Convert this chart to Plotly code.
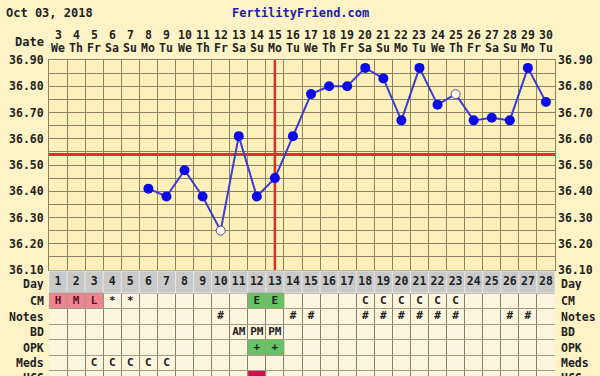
import plotly.graph_objects as go

# ---------------- data ----------------
cycle_days = list(range(1, 29))
dates = ["3", "4", "5", "6", "7", "8", "9", "10", "11", "12", "13", "14", "15", "16",
         "17", "18", "19", "20", "21", "22", "23", "24", "25", "26", "27", "28", "29", "30"]
weekdays = ["We", "Th", "Fr", "Sa", "Su", "Mo", "Tu"] * 4
temps = [None, None, None, None, None,
         36.41, 36.38, 36.48, 36.38, 36.25, 36.61, 36.38, 36.45, 36.61, 36.77,
         36.80, 36.80, 36.87, 36.83, 36.67, 36.87, 36.73, 36.77, 36.67, 36.68,
         36.67, 36.87, 36.74]
open_days = [10, 23]
coverline = 36.54
ovulation_day = 13
temp_ticks = [36.10, 36.20, 36.30, 36.40, 36.50, 36.60, 36.70, 36.80, 36.90]

cm_row = ["H", "M", "L", "*", "*", "", "", "", "", "", "", "E", "E", "", "", "", "",
          "C", "C", "C", "C", "C", "C", "", "", "", "", ""]
notes_row = ["", "", "", "", "", "", "", "", "", "#", "", "", "", "#", "#", "", "",
             "#", "#", "#", "#", "#", "#", "", "", "#", "#", ""]
bd_row = ["", "", "", "", "", "", "", "", "", "", "AM", "PM", "PM", "", "", "", "",
          "", "", "", "", "", "", "", "", "", "", ""]
opk_row = ["", "", "", "", "", "", "", "", "", "", "", "+", "+", "", "", "", "",
           "", "", "", "", "", "", "", "", "", "", ""]
meds_row = ["", "", "C", "C", "C", "C", "C", "", "", "", "", "", "", "", "", "", "",
            "", "", "", "", "", "", "", "", "", "", ""]
hcg_row = [""] * 28
cm_colored = {1: "pink", 2: "pink", 3: "pink", 12: "green", 13: "green"}
opk_colored = {12: "green", 13: "green"}
hcg_colored = {12: "crimson"}

row_names = ["Day", "CM", "Notes", "BD", "OPK", "Meds", "HCG"]

# ---------------- style / layout ----------------
W, H = 600, 376
FONT = "DejaVu Sans Mono"
OUTER = "#fdf3c6"
PLOT_BG = "#fdf0ba"
CELL_BG = "#fdf6de"
GRID = "#8a8266"
TGRID = "#a89c80"
DAY_GREY = "#c9c9c9"
CELL_COLORS = {"pink": "#ef8493", "green": "#62c462", "crimson": "#d3104e"}
TXT = "#222222"
PINK_TXT = "#5a1020"

left_px, right_px = 49, 555
top_px, temp_bottom_px = 60, 270
x_dom = [left_px / W, right_px / W]
y_dom = [(H - temp_bottom_px) / H, (H - top_px) / H]
y2_dom = [0, (H - temp_bottom_px) / H]
table_extent = H - temp_bottom_px  # y2 units == px below 36.10 line
row_edges = [1, 23, 38.5, 54, 69.5, 85, 100.5, 116]
row_centers = [(row_edges[i] + row_edges[i + 1]) / 2 for i in range(len(row_edges) - 1)]

fig = go.Figure()

# temperature line
fig.add_trace(go.Scatter(x=cycle_days, y=temps, mode="lines",
                         line=dict(color="#3c3cd2", width=2), hoverinfo="skip",
                         showlegend=False))
filled_x = [d for d, t in zip(cycle_days, temps) if t is not None and d not in open_days]
filled_y = [t for d, t in zip(cycle_days, temps) if t is not None and d not in open_days]
open_x = [d for d, t in zip(cycle_days, temps) if t is not None and d in open_days]
open_y = [t for d, t in zip(cycle_days, temps) if t is not None and d in open_days]
fig.add_trace(go.Scatter(x=filled_x, y=filled_y, mode="markers",
                         marker=dict(size=10, color="#0b0be8", line=dict(width=0)),
                         showlegend=False))
fig.add_trace(go.Scatter(x=open_x, y=open_y, mode="markers",
                         marker=dict(size=9, color="#fff9e8",
                                     line=dict(width=1, color="#4a4ab0")),
                         showlegend=False))

# table text
table_rows = [[str(d) for d in cycle_days], cm_row, notes_row, bd_row, opk_row, meds_row, hcg_row]
for i, row in enumerate(table_rows):
    if i == 1:
        colors = [PINK_TXT if cm_colored.get(d) == "pink" else TXT for d in cycle_days]
    else:
        colors = TXT
    fig.add_trace(go.Scatter(x=cycle_days, y=[row_centers[i]] * 28, mode="text",
                             text=row, yaxis="y2", cliponaxis=False,
                             textfont=dict(family=FONT, size=11.5 if i == 0 else 11,
                                           color=colors, weight="bold"),
                             showlegend=False, hoverinfo="skip"))

shapes = []
# table body background
shapes.append(dict(type="rect", xref="x", yref="y2", x0=0.5, x1=28.5,
                   y0=row_edges[1], y1=row_edges[-1], fillcolor=CELL_BG,
                   line=dict(width=0), layer="below"))
# day row cells
for d in cycle_days:
    shapes.append(dict(type="rect", xref="x", yref="y2", x0=d - 0.5, x1=d + 0.5,
                       y0=row_edges[0], y1=row_edges[1], fillcolor=DAY_GREY,
                       line=dict(width=1, color="#e4e4e4"), layer="between"))
# coloured cells
for r_idx, colored in [(1, cm_colored), (4, opk_colored), (6, hcg_colored)]:
    for d, c in colored.items():
        shapes.append(dict(type="rect", xref="x", yref="y2", x0=d - 0.5, x1=d + 0.5,
                           y0=row_edges[r_idx], y1=row_edges[r_idx + 1],
                           fillcolor=CELL_COLORS[c], line=dict(width=1, color=TGRID),
                           layer="between"))
# coverline and ovulation line
shapes.append(dict(type="line", xref="x", yref="y", x0=0.5, x1=28.5,
                   y0=coverline, y1=coverline, line=dict(color="#e0302c", width=3),
                   layer="between"))
shapes.append(dict(type="line", xref="x", yref="y", x0=ovulation_day, x1=ovulation_day,
                   y0=36.10, y1=36.91, line=dict(color="#e0302c", width=2.5),
                   layer="between"))

annotations = []
hdr_font = dict(family=FONT, size=12, color=TXT, weight="bold")
small_font = dict(family=FONT, size=11.5, color=TXT, weight="bold")
annotations.append(dict(text="Oct 03, 2018", xref="paper", yref="paper", x=4 / W,
                        y=1 - 13 / H, xanchor="left", yanchor="middle",
                        showarrow=False, font=hdr_font))
annotations.append(dict(text="FertilityFriend.com", xref="paper", yref="paper",
                        x=300 / W, y=1 - 13 / H, xanchor="center", yanchor="middle",
                        showarrow=False,
                        font=dict(family=FONT, size=12, color="#1c1ca8", weight="bold")))
annotations.append(dict(text="Date", xref="paper", yref="paper", x=46 / W,
                        y=1 - 42 / H, xanchor="right", yanchor="middle",
                        showarrow=False, font=hdr_font))
for d, dt, wd in zip(cycle_days, dates, weekdays):
    annotations.append(dict(text=dt, xref="x", yref="paper", x=d, y=1 - 35 / H,
                            xanchor="center", yanchor="middle", showarrow=False,
                            font=small_font, height=12))
    annotations.append(dict(text=wd, xref="x", yref="paper", x=d, y=1 - 48 / H,
                            xanchor="center", yanchor="middle", showarrow=False,
                            font=small_font, height=12))
for i, name in enumerate(row_names):
    yc = row_centers[i] + (1 if i == 0 else 0)
    if i == len(row_names) - 1:
        yc = row_edges[i] + 7
    for side in ("left", "right"):
        annotations.append(dict(text=name, xref="paper", yref="paper",
                                x=(46 if side == "left" else 559) / W,
                                y=(H - temp_bottom_px - yc) / H,
                                xanchor="right" if side == "left" else "left",
                                yanchor="middle", showarrow=False,
                                font=small_font, height=13))

minor_vals = [round(36.10 + 0.05 * k, 2) for k in range(17)]

fig.update_layout(
    width=W, height=H, margin=dict(l=0, r=0, t=0, b=0, pad=0), autosize=False,
    paper_bgcolor=OUTER, plot_bgcolor=PLOT_BG,
    shapes=shapes, annotations=annotations, showlegend=False,
    xaxis=dict(domain=x_dom, range=[0.5, 28.5], tickvals=[k + 0.5 for k in range(29)],
               showticklabels=False, ticks="", showgrid=True, gridcolor=GRID, gridwidth=1,
               zeroline=False, showline=True, linecolor=GRID, mirror=True,
               automargin=False, fixedrange=True),
    yaxis=dict(domain=y_dom, range=[36.10, 36.90], tickvals=minor_vals,
               ticktext=[f"{v:.2f}" if round(v * 100) % 10 == 0 else "" for v in minor_vals],
               showgrid=True, gridcolor=GRID, gridwidth=1, zeroline=False, ticks="",
               tickfont=small_font, showline=True, linecolor=GRID, mirror=True,
               ticklabelstandoff=2, automargin=False),
    yaxis2=dict(domain=y2_dom, range=[table_extent, 0], anchor="x",
                tickvals=row_edges[1:-1], showticklabels=False, ticks="",
                showgrid=True, gridcolor=TGRID, zeroline=False, showline=False,
                automargin=False),
    yaxis3=dict(overlaying="y", side="right", anchor="x", range=[36.10, 36.90],
                tickvals=temp_ticks, ticktext=[f"{v:.2f}" for v in temp_ticks],
                showgrid=False, zeroline=False, ticks="", tickfont=small_font,
                ticklabelstandoff=2, automargin=False),
)
# dummy trace to activate right axis
fig.add_trace(go.Scatter(x=[None], y=[None], yaxis="y3", showlegend=False))

fig.write_html("out.html", config={"displayModeBar": False},
               post_script="document.body.style.margin='0';")
